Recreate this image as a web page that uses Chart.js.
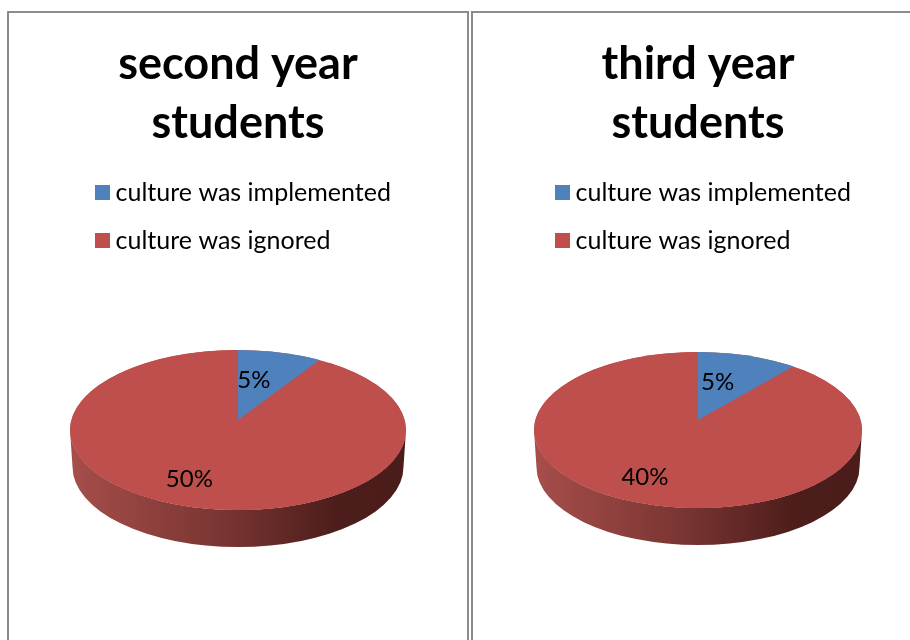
<!DOCTYPE html>
<html>
<head>
<meta charset="utf-8">
<script src="https://cdn.jsdelivr.net/npm/chart.js@4"></script>
<style>
    html, body { margin: 0; background: #fff; overflow: hidden; width: 910px; height: 640px; }
    .panel { position: absolute; top: 11px; height: 640px; border: 2px solid #8c8c8c; }
    #panel-second { left: 7px; width: 458px; }
    #panel-third { left: 471px; width: 450px; }
    canvas { display: block; }
</style>
</head>
<body>
<div class="panel" id="panel-second"><canvas id="secondChart" width="458" height="627"></canvas></div>
<div class="panel" id="panel-third"><canvas id="thirdChart" width="450" height="627"></canvas></div>
<script>
const categories = ['culture was implemented', 'culture was ignored'];
const secondYearValues = [5, 50];
const thirdYearValues = [5, 40];
const secondYearTitle = ['second year', 'students'];
const thirdYearTitle = ['third year', 'students'];
const sliceColors = ['#4f81bd', '#be4f4c'];

// Look of the tilted disc
const TILT = 0.476;          // vertical squash of the top face
const DEPTH = 37;            // height of the side wall
const FACE_OFFSET = 210;     // disc centre, measured up from the bottom of the chart area
const APEX_LIFT = 10;        // the centre point sits above the ellipse centre
const WEDGE_NARROW = 0.88;   // far slice looks narrower in perspective
const LABEL_NUDGE = [[-5, -6], [-25, 11]];

// Legend swatch as a small canvas so it can be wider than its layout slot
function makeSwatch(color) {
    const c = document.createElement('canvas');
    c.width = 15;
    c.height = 15;
    const g = c.getContext('2d');
    g.fillStyle = color;
    g.fillRect(0, 0, 15, 15);
    return c;
}

const tiltedPie = {
    id: 'tiltedPie',
    // Left-align the legend rows as one centred block
    afterLayout(chart) {
        const legend = chart.legend;
        const widest = Math.max(...legend.lineWidths);
        legend.left = legend.left + (legend.width - widest) / 2 - 3.5;
    },
    beforeDatasetsDraw(chart) {
        const ctx = chart.ctx;
        const meta = chart.getDatasetMeta(0);
        const arcs = meta.data;
        const R = arcs[0].outerRadius;
        const cx = arcs[0].x;
        const cy = chart.chartArea.bottom - FACE_OFFSET;
        const ry = R * TILT;

        // side wall, only the front half shows
        const wall = ctx.createLinearGradient(cx - R, 0, cx + R, 0);
        wall.addColorStop(0, '#a64e4b');
        wall.addColorStop(0.45, '#7a3532');
        wall.addColorStop(0.8, '#4c1d1b');
        wall.addColorStop(1, '#4a1c1a');
        ctx.save();
        ctx.fillStyle = wall;
        ctx.beginPath();
        ctx.ellipse(cx, cy + DEPTH, R * 0.985, ry, 0, 0, Math.PI);
        ctx.lineTo(cx - R, cy);
        ctx.ellipse(cx, cy, R, ry, 0, Math.PI, 0, true);
        ctx.closePath();
        ctx.fill();

        // backing for the top face, the lifted wedge does not cover its own gap
        ctx.fillStyle = sliceColors[1];
        ctx.beginPath();
        ctx.ellipse(cx, cy, R, ry, 0, 0, Math.PI * 2);
        ctx.fill();
        ctx.restore();

        // red slice on the plain ellipse
        ctx.save();
        ctx.translate(cx, cy);
        ctx.scale(1, TILT);
        ctx.translate(-arcs[1].x, -arcs[1].y);
        arcs[1].draw(ctx, chart.chartArea);
        ctx.restore();

        // blue slice hinged on the lifted centre, oversized a little and cut at the rim
        const apexY = cy - APEX_LIFT;
        const faceUp = (ry - APEX_LIFT) / R;
        ctx.save();
        ctx.beginPath();
        ctx.ellipse(cx, cy, R, ry, 0, 0, Math.PI * 2);
        ctx.clip();
        ctx.translate(cx, apexY);
        ctx.scale(WEDGE_NARROW * 1.03, faceUp * 1.03);
        ctx.translate(-arcs[0].x, -arcs[0].y);
        arcs[0].draw(ctx, chart.chartArea);
        ctx.restore();

        // value labels
        const values = chart.data.datasets[0].data;
        ctx.save();
        ctx.font = '24px Lato';
        ctx.fillStyle = '#000';
        ctx.textAlign = 'center';
        ctx.textBaseline = 'middle';
        const mid0 = (arcs[0].startAngle + arcs[0].endAngle) / 2;
        const mid1 = (arcs[1].startAngle + arcs[1].endAngle) / 2;
        ctx.fillText(values[0] + '%',
            cx + Math.cos(mid0) * R / 2 * WEDGE_NARROW + LABEL_NUDGE[0][0],
            apexY + Math.sin(mid0) * R / 2 * faceUp + LABEL_NUDGE[0][1]);
        ctx.fillText(values[1] + '%',
            cx + Math.cos(mid1) * R / 2 + LABEL_NUDGE[1][0],
            cy + Math.sin(mid1) * R / 2 * TILT + LABEL_NUDGE[1][1]);
        ctx.restore();
        return false;
    }
};

function buildPie(canvasId, title, values, sidePadding) {
    new Chart(document.getElementById(canvasId), {
        type: 'pie',
        data: {
            labels: categories,
            datasets: [{
                data: values,
                backgroundColor: sliceColors,
                borderWidth: 0
            }]
        },
        options: {
            responsive: false,
            animation: false,
            layout: { padding: { left: sidePadding, right: sidePadding } },
            plugins: {
                title: {
                    display: true,
                    text: title,
                    color: '#000',
                    font: { family: 'Lato', size: 45, weight: 'bold', lineHeight: 1.311 },
                    padding: { top: 22, bottom: 4 }
                },
                legend: {
                    position: 'top',
                    align: 'start',
                    labels: {
                        color: '#000',
                        font: { family: 'Lato', size: 25 },
                        usePointStyle: true,
                        pointStyleWidth: 2,
                        padding: 23,
                        generateLabels(chart) {
                            const items = Chart.overrides.pie.plugins.legend.labels.generateLabels(chart);
                            return items.map((item, i) => ({ ...item, pointStyle: makeSwatch(sliceColors[i]) }));
                        }
                    }
                },
                tooltip: { enabled: false }
            }
        },
        plugins: [tiltedPie]
    });
}

buildPie('secondChart', secondYearTitle, secondYearValues, 61);
buildPie('thirdChart', thirdYearTitle, thirdYearValues, 61);
</script>
</body>
</html>
